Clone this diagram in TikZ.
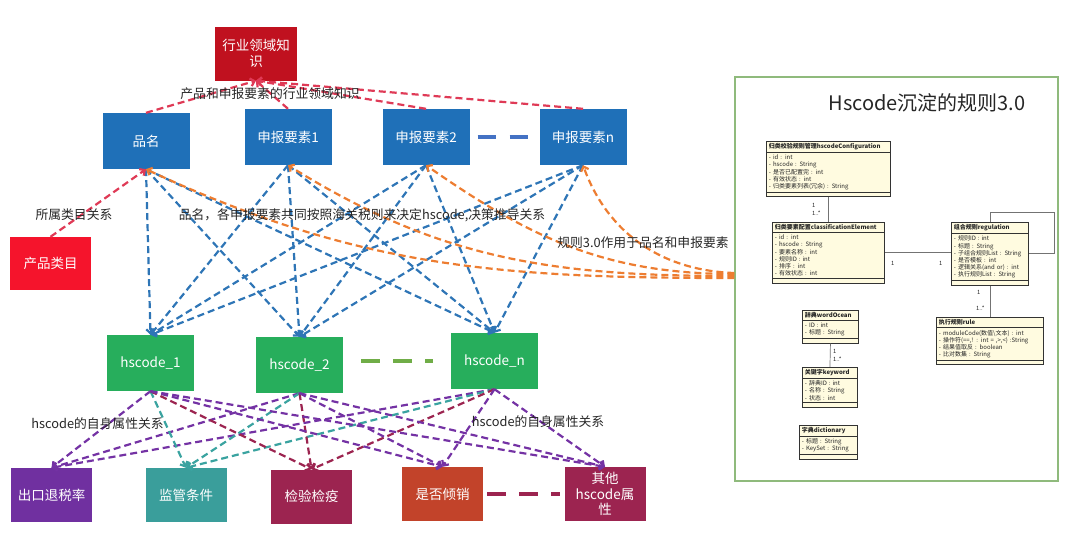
\documentclass[tikz,border=0pt]{standalone}
\usepackage{fontspec}
\setmainfont{Noto Sans CJK SC}
\usetikzlibrary{arrows.meta,shapes.multipart}

\definecolor{indred}{HTML}{C0111F}
\definecolor{catred}{HTML}{F5142C}
\definecolor{topblue}{HTML}{1F70B8}
\definecolor{hsgreen}{HTML}{27AE5C}
\definecolor{attpurple}{HTML}{7030A0}
\definecolor{attteal}{HTML}{3A9E9B}
\definecolor{attcrimson}{HTML}{9C2450}
\definecolor{attorange}{HTML}{C2432A}
\definecolor{lnred}{HTML}{DF3A56}
\definecolor{lnblue}{HTML}{2E75B6}
\definecolor{lnorange}{HTML}{ED7D31}
\definecolor{lnpurple}{HTML}{7432A4}
\definecolor{lnteal}{HTML}{3AA3A0}
\definecolor{lncrimson}{HTML}{9C2450}
\definecolor{dashblue}{HTML}{4472C4}
\definecolor{dashgreen}{HTML}{70AD47}
\definecolor{panelgreen}{HTML}{8FBA7C}
\definecolor{umlfill}{HTML}{FFFBE0}

\begin{document}
\begin{tikzpicture}[
  x=1pt, y=1pt,
  every node/.style = {font=\fontsize{12.8}{15}\selectfont, text=black!85},
  kbox/.style    = {minimum width=87pt, minimum height=56pt, inner sep=2pt,
                    align=center, text=white, font=\fontsize{13.5}{15.5}\selectfont},
  attbox/.style  = {kbox, minimum width=81pt, minimum height=54pt},
  lnk/.style     = {line width=2.2pt, dash pattern=on 7pt off 4pt,
                    -{Straight Barb[length=4pt, width=8pt]}},
  gapdash/.style = {line width=4.5pt, dash pattern=on 18.5pt off 13.5pt},
  uml/.style     = {rectangle split, rectangle split parts=3, anchor=north west,
                    draw=black!80, line width=0.9pt, fill=umlfill, align=left,
                    inner xsep=2.5pt, inner ysep=1.8pt, text=black!85,
                    font=\fontsize{6}{7.2}\selectfont},
  umlline/.style = {draw=black!55, line width=0.7pt},
  mult/.style    = {font=\fontsize{5.8}{6.5}\selectfont, inner sep=0pt, anchor=west},
]
\useasboundingbox (0,0) rectangle (1080,-533);

% ── Knowledge and declaration elements ──────────────────────────────────────
\node[kbox, fill=indred, minimum width=82pt, minimum height=54pt] (ind) at (256,-53.5) {行业领域知\\识};
\node[kbox, fill=topblue] (pinm) at (146,-141) {品名};
\node[kbox, fill=topblue] (ys1)  at (288,-137) {申报要素1};
\node[kbox, fill=topblue] (ys2)  at (426,-137) {申报要素2};
\node[kbox, fill=topblue] (ysn)  at (583,-137) {申报要素n};
\node[kbox, fill=catred, minimum width=81pt, minimum height=53pt] (cat) at (50.5,-263.5) {产品类目};

% ── hscode row ──────────────────────────────────────────────────────────────
\node[kbox, fill=hsgreen] (hs1) at (150.5,-363) {hscode\_1};
\node[kbox, fill=hsgreen] (hs2) at (299.5,-365) {hscode\_2};
\node[kbox, fill=hsgreen] (hsn) at (494.5,-361) {hscode\_n};

% ── hscode attributes ───────────────────────────────────────────────────────
\node[attbox, fill=attpurple]  (tax)   at (51.5,-495)  {出口退税率};
\node[attbox, fill=attteal]    (sup)   at (186,-495)   {监管条件};
\node[attbox, fill=attcrimson] (insp)  at (311.5,-496.5) {检验检疫};
\node[attbox, fill=attorange]  (dump)  at (442.5,-494) {是否倾销};
\node[attbox, fill=attcrimson] (other) at (605,-494)   {其他\\hscode属\\性};

% ── Rule panel (UML) ────────────────────────────────────────────────────────
\node[draw=panelgreen, line width=1.3pt, minimum width=323pt, minimum height=404pt,
  inner sep=0pt] (panel) at (896.5,-279) {};
\node[font=\fontsize{20}{24}\selectfont] (title) at (927,-103) {Hscode沉淀的规则3.0};

\node[uml, text width=119pt] (conf) at (766,-141)
  {\centering\bfseries 归类校验规则管理hscodeConfiguration
   \nodepart{two} - id : int\\- hscode : String\\- 是否已配置完 : int\\- 有效状态 : int\\- 归类要素列表(冗余) : String
   \nodepart{three}};
\node[uml, text width=107pt] (elem) at (772,-222)
  {\centering\bfseries 归类要素配置classificationElement
   \nodepart{two} - id : int\\- hscode : String\\- 要素名称 : int\\- 规则ID : int\\- 排序 : int\\- 有效状态 : int
   \nodepart{three}};
\node[uml, text width=72pt] (reg) at (951,-222)
  {\centering\bfseries 组合规则regulation
   \nodepart{two} - 规则ID : int\\- 标题 : String\\- 子组合规则List : String\\- 是否模板 : int\\- 逻辑关系(and or) : int\\- 执行规则List : String
   \nodepart{three}};
\node[uml, text width=102pt] (rule) at (936,-317)
  {\centering\bfseries 执行规则rule
   \nodepart{two} - moduleCode(数值\textbackslash 文本) : int\\- 操作符(==,! : int = ,>,<) :String\\- 结果值取反 : boolean\\- 比对数集 : String
   \nodepart{three}};
\node[uml, text width=51pt] (word) at (802,-310)
  {\centering\bfseries 辞典wordOcean
   \nodepart{two} - ID : int\\- 标题 : String
   \nodepart{three}};
\node[uml, text width=50pt] (key) at (802,-367)
  {\centering\bfseries 关键字keyword
   \nodepart{two} - 辞典ID : int\\- 名称 : String\\- 状态 : int
   \nodepart{three}};
\node[uml, text width=53pt] (dict) at (799,-425)
  {\centering\bfseries 字典dictionary
   \nodepart{two} - 标题 : String\\- KeySet : String
   \nodepart{three}};

\draw[umlline] (conf.south) -- (elem.north);
\draw[umlline] (elem.east) -- (elem.east -| reg.west);
\draw[umlline] (reg.north) -- ++(0,10) -| ([xshift=25pt]reg.east) -- (reg.east);
\draw[umlline] (reg.south) -- (rule.north);
\draw[umlline] (word.south) -- (key.north);

\node[mult] (m1) at (812,-205) {1};
\node[mult] (m2) at (812,-213) {1..*};
\node[mult] (m3) at (891,-263) {1};
\node[mult] (m4) at (939,-263) {1};
\node[mult] (m5) at (977,-292) {1};
\node[mult] (m6) at (976,-308) {1..*};
\node[mult] (m7) at (833,-351) {1};
\node[mult] (m8) at (833,-359) {1..*};

% ── Decision links: declaration elements -> hscode ─────────────────────────
\foreach \src in {pinm, ys1, ys2, ysn} {
  \foreach \dst in {hs1, hs2, hsn} {
    \draw[lnk, lnblue] (\src.south) -- (\dst.north);
  }
}

% ── Rule 3.0 links ─────────────────────────────────────────────────────────
\draw[lnk, lnorange] ([yshift=1pt]panel.west) to[out=180, in=-25] (pinm.south);
\draw[lnk, lnorange] ([yshift=3pt]panel.west) to[out=180, in=-32] (ys1.south);
\draw[lnk, lnorange] ([yshift=5pt]panel.west) to[out=180, in=-35] (ys2.south);
\draw[lnk, lnorange] ([yshift=6pt]panel.west) to[out=178, in=-70] (ysn.south);

% ── Domain knowledge and category links ────────────────────────────────────
\foreach \src in {pinm, ys1, ys2, ysn} {
  \draw[lnk, lnred] (\src.north) -- (ind.south);
}
\draw[lnk, lnred] (cat.north) -- (pinm.south);

% ── hscode attribute links ─────────────────────────────────────────────────
\foreach \dst/\clr in {tax/lnpurple, sup/lnteal, insp/lncrimson, dump/lnpurple, other/lnpurple} {
  \foreach \src in {hs1, hs2, hsn} {
    \draw[lnk, \clr] (\src.south) -- (\dst.north);
  }
}

% ── "and so on" dashes ─────────────────────────────────────────────────────
\draw[gapdash, dashblue, shorten <=8pt, shorten >=11pt] (ys2.east) -- (ysn.west);
\draw[gapdash, dashgreen, shorten <=18pt, shorten >=18pt] (hs2.east |- hsn.west) -- (hsn.west);
\draw[gapdash, lncrimson, shorten <=4pt, shorten >=4pt] (dump.east) -- (other.west);

% ── Labels ─────────────────────────────────────────────────────────────────
\node (lblind)  at (270,-94)   {产品和申报要素的行业领域知识};
\node (lblcat)  at (74,-215)   {所属类目关系};
\node (lbldec)  at (362,-215)  {品名，各申报要素共同按照海关税则来决定hscode,决策推导关系};
\node (lblrule) at (643,-243)  {规则3.0作用于品名和申报要素};
\node (lblatt1) at (97.5,-424) {hscode的自身属性关系};
\node (lblatt2) at (538,-422)  {hscode的自身属性关系};

\end{tikzpicture}
\end{document}
